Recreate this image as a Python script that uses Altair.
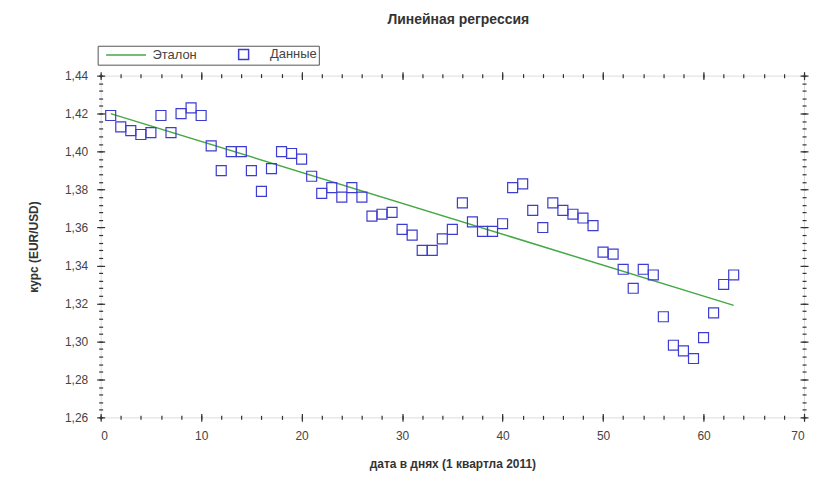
import altair as alt
import pandas as pd

days = list(range(1, 64))
rate = [1.419, 1.413, 1.411, 1.409, 1.410, 1.419, 1.410, 1.420, 1.423, 1.419,
        1.403, 1.390, 1.400, 1.400, 1.390, 1.379, 1.391, 1.400, 1.399, 1.396,
        1.387, 1.378, 1.381, 1.376, 1.381, 1.376, 1.366, 1.367, 1.368, 1.359,
        1.356, 1.348, 1.348, 1.354, 1.359, 1.373, 1.363, 1.358, 1.358, 1.362,
        1.381, 1.383, 1.369, 1.360, 1.373, 1.369, 1.367, 1.365, 1.361, 1.347,
        1.346, 1.338, 1.328, 1.338, 1.335, 1.313, 1.298, 1.295, 1.291, 1.302,
        1.315, 1.330, 1.335]
fit_x = [1, 63]
fit_y = [1.420, 1.319]

series_names = ["Эталон", "Данные"]
colors = ["#44a844", "#3c3cd0"]

x_major = list(range(0, 71, 10))
x_minor = list(range(0, 71, 2))
y_major = [round(1.26 + 0.02 * i, 2) for i in range(10)]
y_minor = [round(1.26 + 0.004 * i, 3) for i in range(46)]

pts = pd.DataFrame({"x": days, "y": rate, "s": "Данные"})
fit = pd.DataFrame({"x": fit_x, "y": fit_y, "s": "Эталон"})

FONT = "Liberation Sans"
xdom = [0, 70]
ydom = [1.26, 1.44]
fmt = "replace(format(datum.value, '.2f'), '.', ',')"

color = alt.Color("s:N", scale=alt.Scale(domain=series_names, range=colors),
                  legend=alt.Legend(title=None, orient="none", legendX=-3, legendY=-30,
                                    direction="horizontal", strokeColor="#555",
                                    padding=2, labelFontSize=13, labelFont=FONT,
                                    labelColor="#444", symbolSize=100,
                                    symbolOffset=20, labelOffset=20,
                                    symbolStrokeWidth=1.5, columnPadding=20))
shape = alt.Shape("s:N", scale=alt.Scale(domain=series_names,
                                         range=["M-4,0H4", "square"]))


def xax(values, size, labels, orient="bottom", title=None):
    kw = dict(values=values, tickSize=size, offset=-size / 2, domain=False, grid=False,
              labels=labels, orient=orient, tickColor="#333", tickWidth=1.2)
    if labels:
        kw.update(labelFont=FONT, labelFontSize=12, labelColor="#444", labelPadding=9)
    if title:
        kw.update(title=title, titleFont=FONT, titleFontSize=12, titleFontWeight="bold",
                  titleColor="#333", titlePadding=17)
    else:
        kw.update(title=None)
    return alt.Axis(**kw)


def yax(values, size, labels, orient="left", title=None):
    kw = dict(values=values, tickSize=size, offset=-size / 2, domain=False, grid=False,
              labels=labels, orient=orient, tickColor="#333", tickWidth=1.2)
    if labels:
        kw.update(labelExpr=fmt, labelFont=FONT, labelFontSize=12,
                  labelColor="#444", labelPadding=9)
    if title:
        kw.update(title=title, titleFont=FONT, titleFontSize=12, titleFontWeight="bold",
                  titleColor="#333", titlePadding=24)
    else:
        kw.update(title=None)
    return alt.Axis(**kw)


line = alt.Chart(fit).mark_line(strokeWidth=1.5).encode(
    x=alt.X("x:Q", scale=alt.Scale(domain=xdom, nice=False),
            axis=xax(x_major, 8, True, title="дата в днях (1 квартла 2011)")),
    y=alt.Y("y:Q", scale=alt.Scale(domain=ydom, nice=False, zero=False),
            axis=yax(y_major, 8, True, title="курс (EUR/USD)")),
    color=color,
)

points = alt.Chart(pts).mark_point(filled=False, size=100, strokeWidth=1.2, opacity=1).encode(
    x=alt.X("x:Q", scale=alt.Scale(domain=xdom, nice=False), axis=xax(x_minor, 4, False)),
    y=alt.Y("y:Q", scale=alt.Scale(domain=ydom, nice=False, zero=False),
            axis=yax(y_minor, 4, False)),
    color=color,
    shape=shape,
)

top_major = alt.Chart(pts).mark_point(opacity=0).encode(
    x=alt.X("x:Q", scale=alt.Scale(domain=xdom, nice=False), axis=xax(x_major, 8, False, "top")),
    y=alt.Y("y:Q", scale=alt.Scale(domain=ydom, nice=False, zero=False),
            axis=yax(y_major, 8, False, "right")),
)

top_minor = alt.Chart(pts).mark_point(opacity=0).encode(
    x=alt.X("x:Q", scale=alt.Scale(domain=xdom, nice=False), axis=xax(x_minor, 4, False, "top")),
    y=alt.Y("y:Q", scale=alt.Scale(domain=ydom, nice=False, zero=False),
            axis=yax(y_minor, 4, False, "right")),
)

chart = alt.layer(top_major, top_minor, line, points).resolve_scale(
    x="independent", y="independent", color="shared", shape="shared"
).properties(
    width=706, height=343,
    autosize=alt.AutoSizeParams(type="none"),
    padding={"left": 93, "top": 67, "right": 8, "bottom": 68},
    title=alt.TitleParams("Линейная регрессия", font=FONT, fontSize=14, fontWeight="bold",
                          color="#333", anchor="middle", offset=18, dx=6),
).configure_view(stroke="#333", strokeWidth=1.5).configure(background="white")

chart.save("out.html", embed_options={"renderer": "svg", "actions": False})
